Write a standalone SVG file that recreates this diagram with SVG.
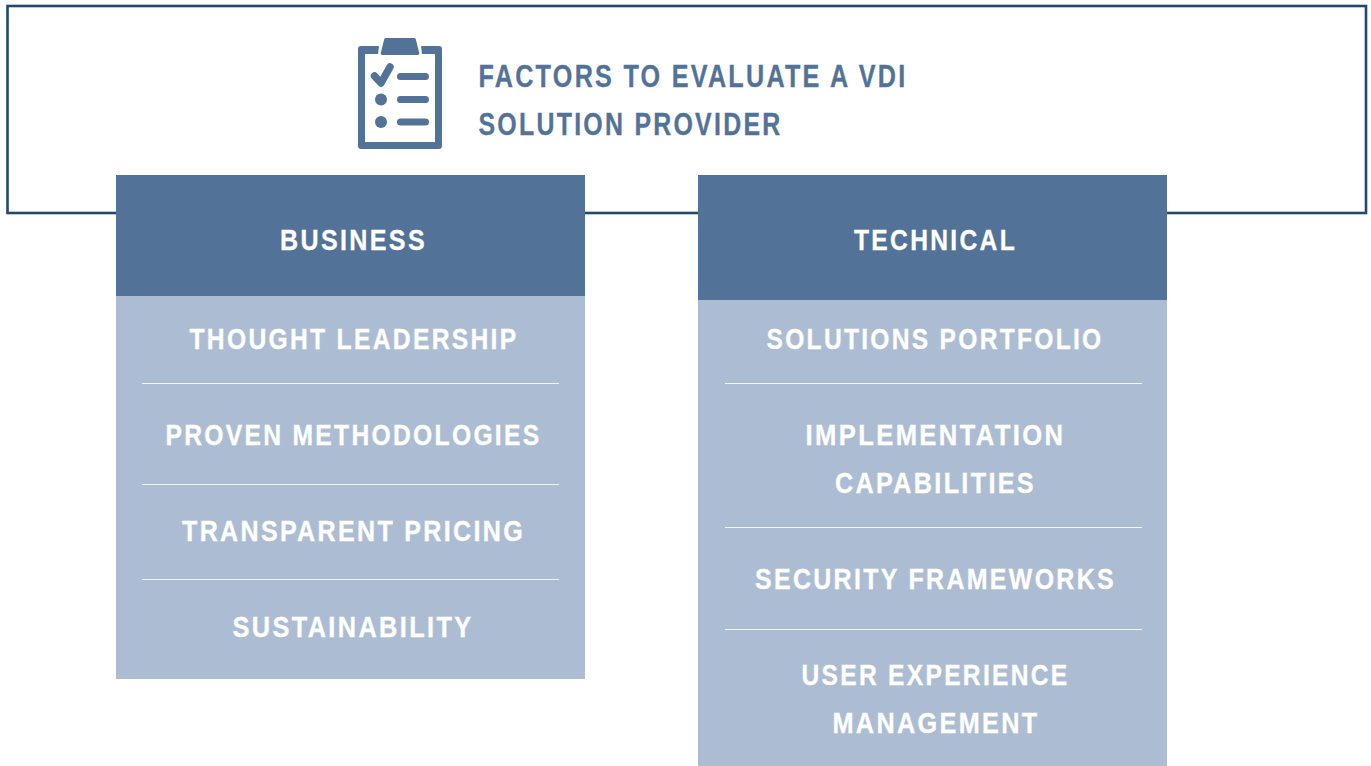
<svg xmlns="http://www.w3.org/2000/svg" width="1371" height="766" viewBox="0 0 1371 766">
<style>
.t{font-family:"Liberation Sans",Arial,sans-serif;font-weight:700;font-size:30px;letter-spacing:2.8px;fill:#fff;stroke:#fff;stroke-width:.3px}
.h{fill:#527298}.b{fill:#acbdd3}
.d{stroke:#fff;stroke-width:1;opacity:.85}
.ti{font-family:"Liberation Sans",Arial,sans-serif;font-weight:700;font-size:31px;letter-spacing:2.8px;fill:#527298;stroke:#527298;stroke-width:.3px}
</style>
<rect width="1371" height="766" fill="#fff"/>
<g id="frame"><rect x="7.500" y="6" width="1358.500" height="207" fill="none" stroke="#23476f" stroke-width="2.600"/></g>
<g id="title">
<path d="M379 46H361a3 3 0 0 0-3 3V146a3 3 0 0 0 3 3H439a3 3 0 0 0 3-3V49a3 3 0 0 0-3-3H421l1 8h13V142H365V54h13z" fill="#527298"/>
<path d="M386 38h28a2 2 0 0 1 2 2l3 12a2 2 0 0 1-2 3H383a2 2 0 0 1-2-3l3-12a2 2 0 0 1 2-2z" fill="#527298"/>
<path d="M374.500 76l6.500 7 9-16" fill="none" stroke="#527298" stroke-width="7.500" stroke-linecap="round" stroke-linejoin="round"/>
<g stroke="#527298" stroke-width="7" stroke-linecap="round"><path d="M400.500 76.500h25M400.500 99.500h25M400.500 122h25"/></g>
<circle cx="381" cy="99.500" r="6" fill="#527298"/><circle cx="381" cy="122" r="6" fill="#527298"/>
<text class="ti" x="478.500" y="86.500" textLength="429" lengthAdjust="spacingAndGlyphs">FACTORS TO EVALUATE A VDI</text>
<text class="ti" x="478.500" y="134.500" textLength="304" lengthAdjust="spacingAndGlyphs">SOLUTION PROVIDER</text>
</g>
<g id="business">
<rect class="b" x="116" y="296" width="469" height="383"/>
<rect class="h" x="116" y="175" width="469" height="121"/>
<text class="t" x="280" y="250" textLength="147" lengthAdjust="spacingAndGlyphs">BUSINESS</text>
<text class="t" x="189.500" y="349" textLength="329" lengthAdjust="spacingAndGlyphs">THOUGHT LEADERSHIP</text>
<line class="d" x1="142" x2="559" y1="383.500" y2="383.500"/>
<text class="t" x="165.500" y="445" textLength="376" lengthAdjust="spacingAndGlyphs">PROVEN METHODOLOGIES</text>
<line class="d" x1="142" x2="559" y1="484.500" y2="484.500"/>
<text class="t" x="182" y="541" textLength="343" lengthAdjust="spacingAndGlyphs">TRANSPARENT PRICING</text>
<line class="d" x1="142" x2="559" y1="579.500" y2="579.500"/>
<text class="t" x="232.500" y="637" textLength="241" lengthAdjust="spacingAndGlyphs">SUSTAINABILITY</text>
</g>
<g id="technical">
<rect class="b" x="698" y="300" width="469" height="466"/>
<rect class="h" x="698" y="175" width="469" height="125"/>
<text class="t" x="854" y="250" textLength="163" lengthAdjust="spacingAndGlyphs">TECHNICAL</text>
<text class="t" x="766.500" y="349" textLength="337" lengthAdjust="spacingAndGlyphs">SOLUTIONS PORTFOLIO</text>
<line class="d" x1="725" x2="1142" y1="383.500" y2="383.500"/>
<text class="t" x="805.500" y="445" textLength="260" lengthAdjust="spacingAndGlyphs">IMPLEMENTATION</text>
<text class="t" x="835" y="493" textLength="201" lengthAdjust="spacingAndGlyphs">CAPABILITIES</text>
<line class="d" x1="725" x2="1142" y1="527.500" y2="527.500"/>
<text class="t" x="755" y="589" textLength="361" lengthAdjust="spacingAndGlyphs">SECURITY FRAMEWORKS</text>
<line class="d" x1="725" x2="1142" y1="629.500" y2="629.500"/>
<text class="t" x="801.500" y="685" textLength="268" lengthAdjust="spacingAndGlyphs">USER EXPERIENCE</text>
<text class="t" x="832.500" y="733" textLength="207" lengthAdjust="spacingAndGlyphs">MANAGEMENT</text>
</g>
</svg>
